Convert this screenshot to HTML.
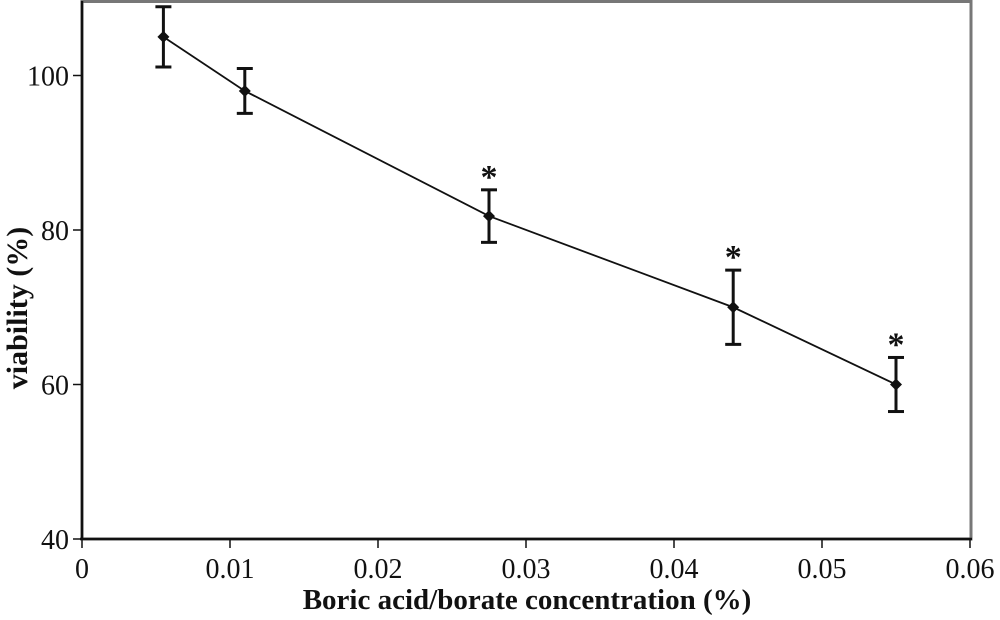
<!DOCTYPE html>
<html><head><meta charset="utf-8"><style>
html,body{margin:0;padding:0;background:#fff;}
svg text{font-family:"Liberation Serif",serif;fill:#111;}
</style></head><body>
<svg id="chart" width="1000" height="615" viewBox="0 0 1000 615">
  <rect x="82" y="1.5" width="889" height="537.5" fill="none" stroke="#777" stroke-width="3"/>
  <g id="axes"></g>
  <g id="series"></g>
  <text x="527" y="609" text-anchor="middle" font-size="29" font-weight="bold">Boric acid/borate concentration (%)</text>
  <text transform="translate(27,308) rotate(-90)" text-anchor="middle" font-size="30" font-weight="bold">viability (%)</text>
</svg>
<script>
const xValues = [0.0055, 0.011, 0.0275, 0.044, 0.055];
const yValues = [105, 98, 81.8, 70, 60];
const yErrors = [3.9, 2.9, 3.4, 4.8, 3.5];
const significant = [false, false, true, true, true];
const xTicks = [0, 0.01, 0.02, 0.03, 0.04, 0.05, 0.06];
const xTickLabels = ["0", "0.01", "0.02", "0.03", "0.04", "0.05", "0.06"];
const yTicks = [40, 60, 80, 100];
const yTickLabels = ["40", "60", "80", "100"];

const NS = "http://www.w3.org/2000/svg";
function xs(v){ return 82 + v * 14800; }
function ys(v){ return 539 - (v - 40) * 7.725; }
function mk(tag, attrs, parent){
  const e = document.createElementNS(NS, tag);
  for (const k in attrs) e.setAttribute(k, attrs[k]);
  parent.appendChild(e);
  return e;
}
const axes = document.getElementById('axes');
const series = document.getElementById('series');

const yl = mk('line', {x1:82, y1:1, x2:82, y2:539, stroke:'#111', 'stroke-width':2.5}, axes);


const xl = mk('line', {x1:80, y1:539, x2:972, y2:539, stroke:'#111', 'stroke-width':2.5}, axes);



xTicks.forEach((t, i) => {
  const x = xs(t);
  const tk = mk('line', {x1:x, y1:539, x2:x, y2:548, stroke:'#111', 'stroke-width':1.5}, axes);
  
  
  const tx = mk('text', {x:x, y:578, 'text-anchor':'middle', 'font-size':28}, axes);
  tx.textContent = xTickLabels[i];
  
  
});
yTicks.forEach((t, i) => {
  const y = ys(t);
  const tk = mk('line', {x1:73, y1:y, x2:82, y2:y, stroke:'#111', 'stroke-width':1.5}, axes);
  
  
  const tx = mk('text', {x:69, y:y + 10, 'text-anchor':'end', 'font-size':28}, axes);
  tx.textContent = yTickLabels[i];
  
  
});

const pts = xValues.map((v, i) => xs(v) + ',' + ys(yValues[i])).join(' ');
const line = mk('polyline', {points:pts, fill:'none', stroke:'#111', 'stroke-width':1.8}, series);



xValues.forEach((v, i) => {
  const x = xs(v), y = ys(yValues[i]);
  const yt = ys(yValues[i] + yErrors[i]), yb = ys(yValues[i] - yErrors[i]);
  const g = mk('g', {}, series);
  
  
  mk('line', {x1:x, y1:yt, x2:x, y2:yb, stroke:'#111', 'stroke-width':3}, g);
  mk('line', {x1:x - 8, y1:yt, x2:x + 8, y2:yt, stroke:'#111', 'stroke-width':3}, g);
  mk('line', {x1:x - 8, y1:yb, x2:x + 8, y2:yb, stroke:'#111', 'stroke-width':3}, g);
  const d = mk('polygon', {points:`${x},${y-6} ${x+6},${y} ${x},${y+6} ${x-6},${y}`, fill:'#111'}, series);
  
  
  if (significant[i]) {
    const s = mk('text', {x:x, y:yt - 2, 'text-anchor':'middle', 'font-size':34, 'font-weight':'bold'}, series);
    s.textContent = '*';
    
    
  }
});
</script>
</body></html>
